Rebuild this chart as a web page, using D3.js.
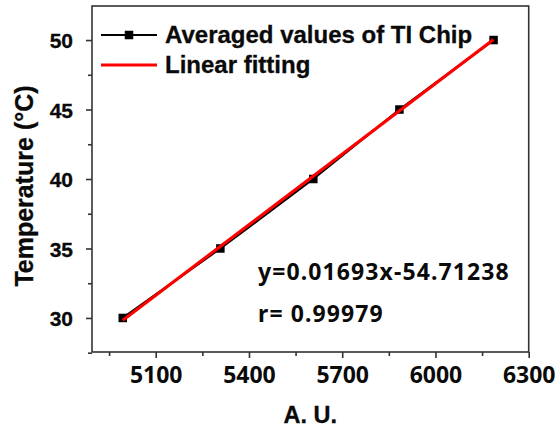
<!DOCTYPE html>
<html>
<head>
<meta charset="utf-8">
<script src="https://cdn.jsdelivr.net/npm/d3@7"></script>
<style>
  html, body { margin: 0; padding: 0; background: #fff; }
  svg { display: block; }
</style>
</head>
<body>
<svg id="chart" width="556" height="432"></svg>
<script>
// Averaged TI chip readings (A. U.) at each set temperature (°C)
const readings = [4994, 5308, 5607, 5884, 6187];
const temperatures = [30, 35, 40, 45, 50];

// Linear fit coefficients: T = slope * A.U. + intercept
const slope = 0.01693;
const intercept = -54.71238;
const rValue = "0.99979";

const xTicks = [5100, 5400, 5700, 6000, 6300];
const xMinorTicks = [4950, 5250, 5550, 5850, 6150];
const yTicks = [30, 35, 40, 45, 50];
const yMinorTicks = [27.5, 32.5, 37.5, 42.5, 47.5];

const legendLabels = ["Averaged values of TI Chip", "Linear fitting"];

const svg = d3.select("#chart");
const plotL = 92, plotR = 528.7, plotT = 6, plotB = 352;

const x = d3.scaleLinear().domain([4895, 6300]).range([plotL, plotR]);
const y = d3.scaleLinear().domain([27.55, 52.45]).range([plotB, plotT]);

const axisColor = "#333";
const ink = "#0a0a0a";
const arial = "'Liberation Sans', Arial, sans-serif";
const noto = "'Noto Sans', sans-serif";

// frame
svg.append("rect")
  .attr("x", plotL).attr("y", plotT)
  .attr("width", plotR - plotL).attr("height", plotB - plotT)
  .attr("fill", "none").attr("stroke", axisColor).attr("stroke-width", 1.6);

// bottom axis
const gx = svg.append("g").attr("transform", `translate(0,${plotB})`)
  .call(d3.axisBottom(x).tickValues(xTicks).tickSize(6).tickPadding(9).tickFormat(d3.format("d")));
svg.append("g").attr("transform", `translate(0,${plotB})`)
  .call(d3.axisBottom(x).tickValues(xMinorTicks).tickSize(4).tickFormat(""))
  .call(g => g.select(".domain").remove());

// left axis
const gy = svg.append("g").attr("transform", `translate(${plotL},0)`)
  .call(d3.axisLeft(y).tickValues(yTicks).tickSize(6).tickPadding(13).tickFormat(d3.format("d")));
svg.append("g").attr("transform", `translate(${plotL},0)`)
  .call(d3.axisLeft(y).tickValues(yMinorTicks).tickSize(4).tickFormat(""))
  .call(g => g.select(".domain").remove());

svg.selectAll(".domain").attr("stroke", "none");
svg.selectAll(".tick line").attr("stroke", axisColor).attr("stroke-width", 1.6);

gx.selectAll(".tick text")
  .attr("font-family", noto).attr("font-weight", "bold").attr("font-size", 23)
  .attr("fill", ink);
gy.selectAll(".tick text")
  .attr("font-family", arial).attr("font-weight", "bold").attr("font-size", 21)
  .attr("fill", ink).attr("dy", "0.36em")
  .attr("stroke", ink).attr("stroke-width", 0.3);

// axis titles
svg.append("text")
  .attr("x", (plotL + plotR) / 2).attr("y", 423)
  .attr("text-anchor", "middle")
  .attr("font-family", arial).attr("font-weight", "bold").attr("font-size", 23.5)
  .attr("fill", ink).attr("stroke", ink).attr("stroke-width", 0.3)
  .text("A. U.");

svg.append("text")
  .attr("transform", `translate(33,186) rotate(-90)`)
  .attr("text-anchor", "middle")
  .attr("font-family", arial).attr("font-weight", "bold").attr("font-size", 25)
  .attr("fill", ink).attr("stroke", ink).attr("stroke-width", 0.3)
  .text("Temperature (°C)");

// averaged values: line + square markers
const points = readings.map((r, i) => [r, temperatures[i]]);
svg.append("path")
  .datum(points)
  .attr("fill", "none").attr("stroke", "#000").attr("stroke-width", 2.2)
  .attr("d", d3.line().x(d => x(d[0])).y(d => y(d[1])));

const m = 8.5;
svg.selectAll("rect.pt")
  .data(points)
  .join("rect")
  .attr("class", "pt")
  .attr("x", d => x(d[0]) - m / 2).attr("y", d => y(d[1]) - m / 2)
  .attr("width", m).attr("height", m)
  .attr("fill", "#000");

// fitted line across the measured range
const xExt = d3.extent(readings);
const fitPts = xExt.map(v => [v, slope * v + intercept]);
svg.append("path")
  .datum(fitPts)
  .attr("fill", "none").attr("stroke", "#ff0000").attr("stroke-width", 3.2)
  .attr("d", d3.line().x(d => x(d[0])).y(d => y(d[1])));

// legend
const lg = svg.append("g");
const lx0 = 101, lx1 = 157;
lg.append("line").attr("x1", lx0).attr("x2", lx1).attr("y1", 35).attr("y2", 35)
  .attr("stroke", "#000").attr("stroke-width", 2.2);
lg.append("rect").attr("x", (lx0 + lx1) / 2 - m / 2).attr("y", 35 - m / 2)
  .attr("width", m).attr("height", m).attr("fill", "#000");
lg.append("line").attr("x1", lx0).attr("x2", lx1).attr("y1", 65).attr("y2", 65)
  .attr("stroke", "#ff0000").attr("stroke-width", 3.2);
lg.selectAll("text")
  .data(legendLabels)
  .join("text")
  .attr("x", 165).attr("y", (d, i) => 43 + i * 30)
  .attr("font-family", arial).attr("font-weight", "bold").attr("font-size", 24)
  .attr("fill", ink).attr("stroke", ink).attr("stroke-width", 0.3)
  .text(d => d);

// fit annotation
svg.append("text")
  .attr("x", 258).attr("y", 280)
  .attr("font-family", noto).attr("font-weight", "bold").attr("font-size", 23)
  .attr("letter-spacing", 1.1)
  .attr("fill", ink)
  .text(`y=${slope}x${intercept}`);
svg.append("text")
  .attr("x", 258).attr("y", 322)
  .attr("font-family", noto).attr("font-weight", "bold").attr("font-size", 23)
  .attr("letter-spacing", 1.1)
  .attr("fill", ink)
  .attr("xml:space", "preserve")
  .text(`r= ${rValue}`);
</script>
</body>
</html>
